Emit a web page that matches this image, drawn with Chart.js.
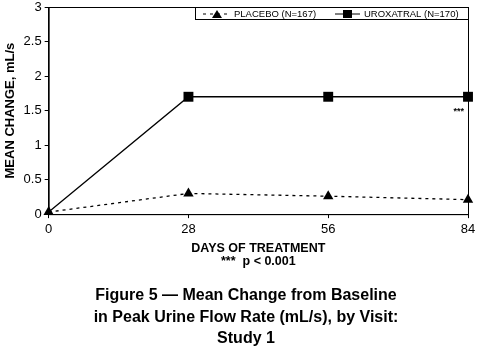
<!DOCTYPE html>
<html>
<head>
<meta charset="utf-8">
<script src="https://cdn.jsdelivr.net/npm/chart.js@4"></script>
<style>
  html, body { margin: 0; padding: 0; background: #fff; }
  #wrap { width: 480px; height: 352px; }
</style>
</head>
<body>
<div id="wrap"><canvas id="chart" width="480" height="352"></canvas></div>
<script>
const days = [0, 28, 56, 84];
const placebo = [0.03, 0.30, 0.26, 0.21];
const uroxatral = [0.03, 1.70, 1.70, 1.70];
const seriesNames = ["PLACEBO (N=167)", "UROXATRAL (N=170)"];
const yTicks = [0, 0.5, 1, 1.5, 2, 2.5, 3];
const caption = [
  "Figure 5 \u2014 Mean Change from Baseline",
  "in Peak Urine Flow Rate (mL/s), by Visit:",
  "Study 1",
];
const FONT = "'Liberation Sans', Arial, Helvetica, sans-serif";

function toPoints(vals) {
  return days.map((d, i) => ({ x: d, y: vals[i] }));
}

// box round the plot, legend at top right, *** note, caption under the chart
const extras = {
  id: "extras",
  afterDraw(chart) {
    const ctx = chart.ctx;
    const a = chart.chartArea;
    ctx.save();
    ctx.strokeStyle = "#000";
    ctx.lineWidth = 1;
    ctx.strokeRect(a.left + 0.5, a.top + 0.5, a.right - a.left, a.bottom - a.top);

    // legend box
    const lx = 195, ly = a.top, lw = a.right - 195, lh = 12;
    ctx.fillStyle = "#fff";
    ctx.fillRect(lx, ly, lw, lh);
    ctx.strokeRect(lx + 0.5, ly + 0.5, lw, lh);
    ctx.font = "9.5px " + FONT;
    ctx.fillStyle = "#000";
    ctx.textBaseline = "middle";
    const cy = ly + lh / 2 + 1;
    ctx.setLineDash([3, 4]);
    ctx.beginPath(); ctx.moveTo(203, cy); ctx.lineTo(231, cy); ctx.stroke();
    ctx.setLineDash([]);
    ctx.beginPath();
    ctx.moveTo(217, cy - 4); ctx.lineTo(222, cy + 4); ctx.lineTo(212, cy + 4); ctx.closePath();
    ctx.fill();
    ctx.fillText(seriesNames[0], 234, cy);
    ctx.beginPath(); ctx.moveTo(335, cy); ctx.lineTo(360, cy); ctx.stroke();
    ctx.fillRect(343, cy - 4, 9, 8);
    ctx.fillText(seriesNames[1], 364, cy);

    // significance marker
    const xs = chart.scales.x, ys = chart.scales.y;
    ctx.font = "bold 9px " + FONT;
    ctx.textAlign = "right";
    ctx.fillText("***", xs.getPixelForValue(84) - 4, ys.getPixelForValue(1.49));

    // caption
    ctx.font = "bold 16px " + FONT;
    ctx.textAlign = "center";
    caption.forEach((line, i) => ctx.fillText(line, 246, 296 + i * 21.5));
    ctx.restore();
  }
};

new Chart(document.getElementById("chart"), {
  type: "line",
  data: {
    datasets: [
      {
        label: seriesNames[0],
        data: toPoints(placebo),
        borderColor: "#000",
        backgroundColor: "#000",
        borderWidth: 1.3,
        borderDash: [3, 4],
        pointStyle: "triangle",
        pointRadius: 6,
        pointBorderWidth: 0,
      },
      {
        label: seriesNames[1],
        data: toPoints(uroxatral),
        borderColor: "#000",
        backgroundColor: "#000",
        borderWidth: 1.3,
        pointStyle: "rect",
        pointRadius: [0, 7, 7, 7],
        pointBorderWidth: 0,
      },
    ],
  },
  options: {
    responsive: false,
    animation: false,
    clip: false,
    layout: { padding: { left: 3, right: 12, top: 2, bottom: 84 } },
    scales: {
      x: {
        type: "linear",
        min: 0,
        max: 84,
        afterBuildTicks: (s) => { s.ticks = days.map((v) => ({ value: v })); },
        grid: { drawOnChartArea: false, tickLength: 4, color: "#000" },
        border: { color: "#000" },
        ticks: { color: "#000", font: { size: 13, family: FONT }, padding: 3, maxRotation: 0 },
        title: {
          display: true,
          text: ["DAYS OF TREATMENT", "***  p < 0.001"],
          color: "#000",
          font: { size: 12.5, weight: "bold", family: FONT, lineHeight: 1.05 },
          padding: { top: 2, bottom: 0 },
        },
      },
      y: {
        min: 0,
        max: 3,
        afterBuildTicks: (s) => { s.ticks = yTicks.map((v) => ({ value: v })); },
        afterFit: (s) => { s.paddingTop = 0; s.paddingBottom = 0; },
        grid: { drawOnChartArea: false, tickLength: 4, color: "#000" },
        border: { color: "#000" },
        ticks: {
          color: "#000",
          font: { size: 13, family: FONT },
          padding: 3,
          callback: (v) => String(v),
        },
        title: {
          display: true,
          text: "MEAN CHANGE, mL/s",
          color: "#000",
          font: { size: 13, weight: "bold", family: FONT },
          padding: { top: 0, bottom: 2 },
        },
      },
    },
    plugins: {
      legend: { display: false },
      tooltip: { enabled: false },
      title: { display: false },
    },
  },
  plugins: [extras],
});
</script>
</body>
</html>
